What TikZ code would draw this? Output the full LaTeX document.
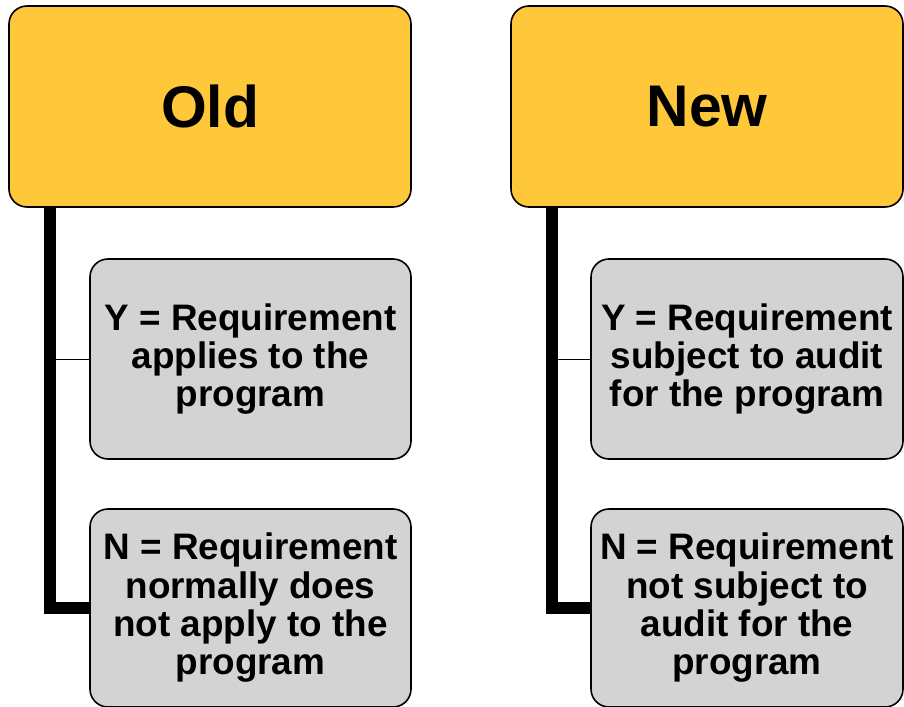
\documentclass[tikz,border=0pt]{standalone}
\usepackage{fontspec}
\setmainfont{Liberation Sans}
\definecolor{headyellow}{RGB}{255,199,58}
\definecolor{notegray}{RGB}{211,211,211}
\tikzset{
  headbox/.style={draw=black,line width=1.6bp,fill=headyellow,rounded corners=18bp,
    inner sep=0pt,font=\bfseries\fontsize{59}{62}\selectfont},
  notebox/.style={draw=black,line width=1.6bp,fill=notegray,rounded corners=18bp,
    inner sep=0pt,align=center,font=\bfseries\fontsize{37}{38.5}\selectfont},
  spine/.style={line width=12bp,line join=miter},
  twig/.style={line width=1bp}
}
\begin{document}
\begin{tikzpicture}[x=1bp,y=-1bp]
  \useasboundingbox (0,0) rectangle (904,707);

  % left column: old meaning
  \node[headbox,minimum width=402bp,minimum height=201bp] (oldHead) at (210,106.5) {Old};
  \node[notebox,minimum width=321bp,minimum height=200bp] (oldYes) at (250.5,359)
    {Y = Requirement\\applies to the\\program};
  \node[notebox,minimum width=321bp,minimum height=198bp] (oldNo) at (250.5,608)
    {N = Requirement\\normally does\\not apply to the\\program};
  \coordinate (oldSpine) at (50,207);
  \draw[spine] (oldSpine) |- (oldNo.west);
  \draw[twig] (oldSpine |- oldYes.west) -- (oldYes.west);

  % right column: new meaning
  \node[headbox,minimum width=392bp,minimum height=201bp] (newHead) at (707,106.5) {New};
  \node[notebox,minimum width=312bp,minimum height=200bp] (newYes) at (747,359)
    {Y = Requirement\\subject to audit\\for the program};
  \node[notebox,minimum width=312bp,minimum height=198bp] (newNo) at (747,608)
    {N = Requirement\\not subject to\\audit for the\\program};
  \coordinate (newSpine) at (552,207);
  \draw[spine] (newSpine) |- (newNo.west);
  \draw[twig] (newSpine |- newYes.west) -- (newYes.west);
\end{tikzpicture}
\end{document}
